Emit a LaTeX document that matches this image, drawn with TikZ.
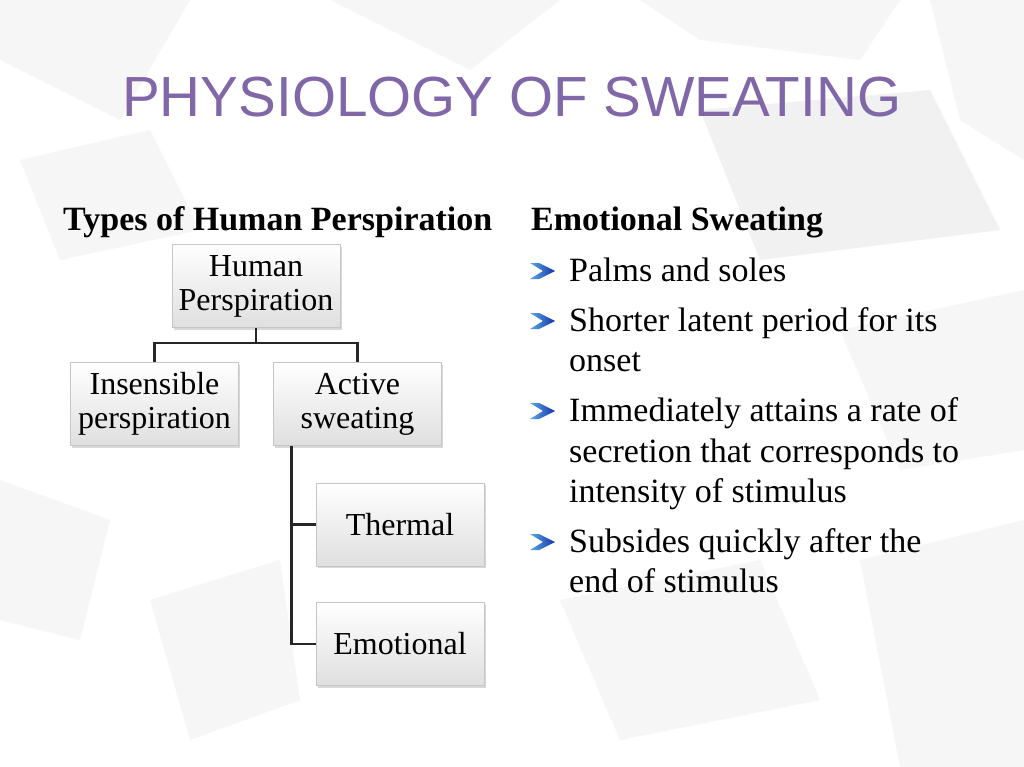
\documentclass[tikz,border=0pt]{standalone}
\usepackage{fontspec}
\setmainfont{Liberation Serif}
\newfontfamily\titlefont{Liberation Sans}
\usetikzlibrary{shadows}
\definecolor{titlepurple}{RGB}{128,104,168}
\definecolor{bulletdark}{RGB}{20,50,170}
\definecolor{bulletlight}{RGB}{90,170,230}
\tikzset{
  box/.style={draw=gray!45, line width=0.6pt, top color=white, bottom color=gray!25,
    minimum width=168pt, minimum height=83pt, align=center, inner sep=0pt,
    font=\fontsize{32}{34}\selectfont,
    drop shadow={shadow xshift=1.5pt, shadow yshift=-2pt, fill=gray!60, opacity=0.5}},
  conn/.style={line width=2.2pt, black!85},
  heading/.style={anchor=base west, font=\fontsize{34}{40}\selectfont\bfseries, inner sep=0pt},
  line/.style={anchor=base west, font=\fontsize{34}{40}\selectfont, inner sep=0pt},
  bg/.style={fill=gray!12, draw=none, opacity=0.6}
}
\newcommand{\chev}[2]{%
  \shade[left color=bulletlight, right color=bulletdark]
    (#1,#2) -- ++(9,0) -- ++(16,8) -- ++(-16,8) -- ++(-9,0) -- ++(13,-8) -- cycle;}
\begin{document}
\begin{tikzpicture}[x=1pt,y=-1pt]
\useasboundingbox (0,0) rectangle (1024,767);
\fill[white] (0,0) rectangle (1024,767);
% background geometric shapes
\fill[bg] (0,0) -- (190,0) -- (120,120) -- (0,60) -- cycle;
\fill[bg] (330,0) -- (560,0) -- (470,70) -- cycle;
\fill[bg] (640,0) -- (900,0) -- (860,60) -- (700,40) -- cycle;
\fill[bg, fill=gray!18] (700,110) -- (930,90) -- (1000,230) -- (760,260) -- cycle;
\fill[bg] (930,0) -- (1024,0) -- (1024,160) -- (960,120) -- cycle;
\fill[bg] (20,160) -- (150,130) -- (200,230) -- (60,260) -- cycle;
\fill[bg] (840,330) -- (1024,290) -- (1024,450) -- (900,470) -- cycle;
\fill[bg] (0,480) -- (110,520) -- (80,640) -- (0,620) -- cycle;
\fill[bg] (560,600) -- (760,560) -- (820,700) -- (620,740) -- cycle;
\fill[bg] (860,560) -- (1024,520) -- (1024,767) -- (900,767) -- cycle;
\fill[bg] (150,600) -- (280,560) -- (300,700) -- (190,740) -- cycle;

% title
\node[anchor=base west, inner sep=0pt, text=titlepurple, font=\fontsize{56.6}{60}\selectfont\titlefont] (title) at (122,117) {PHYSIOLOGY OF SWEATING};

% headings
\node[heading] (lefthead) at (63,230) {Types of Human Perspiration};
\node[heading] (righthead) at (531,230) {Emotional Sweating};

% boxes
\node[box] (human) at (256,286) {Human\\Perspiration};
\node[box] (insens) at (154.5,404) {Insensible\\perspiration};
\node[box] (active) at (357.5,404) {Active\\sweating};
\node[box] (thermal) at (400,524.5) {Thermal};
\node[box] (emot) at (400,644) {Emotional};

% connectors
\coordinate (split) at (256,343);
\draw[conn] (human.south) -- (split);
\draw[conn] (insens.north) |- (split) -| (active.north);
\draw[conn] ([xshift=-66pt]active.south) |- (thermal.west);
\draw[conn] ([xshift=-66pt]active.south) |- (emot.west);

% bullets
\chev{530}{263}
\node[line] (b1) at (569,281) {Palms and soles};
\chev{530}{313}
\node[line] (b2a) at (569,331) {Shorter latent period for its};
\node[line] (b2b) at (569,371) {onset};
\chev{530}{403}
\node[line] (b3a) at (569,421) {Immediately attains a rate of};
\node[line] (b3b) at (569,462) {secretion that corresponds to};
\node[line] (b3c) at (569,502) {intensity of stimulus};
\chev{530}{534}
\node[line] (b4a) at (569,552) {Subsides quickly after the};
\node[line] (b4b) at (569,592) {end of stimulus};
\end{tikzpicture}
\end{document}
